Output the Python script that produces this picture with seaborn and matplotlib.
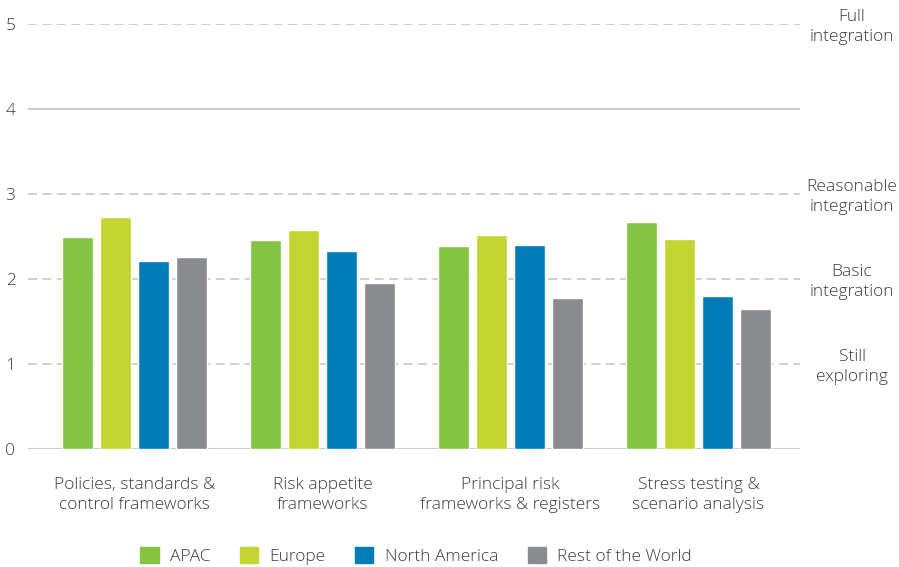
import numpy as np
import pandas as pd
import matplotlib
matplotlib.use("Agg")
import matplotlib.pyplot as plt
import matplotlib.patches as mpatches
import matplotlib.transforms as mtransforms
import seaborn as sns

# Data
categories = ["Policies, standards &\ncontrol frameworks",
              "Risk appetite\nframeworks",
              "Principal risk\nframeworks & registers",
              "Stress testing &\nscenario analysis"]
regions = ["APAC", "Europe", "North America", "Rest of the World"]
apac = [2.49, 2.46, 2.39, 2.67]
europe = [2.73, 2.58, 2.52, 2.47]
north_america = [2.21, 2.33, 2.40, 1.80]
rest_of_world = [2.26, 1.95, 1.78, 1.65]
level_values = [5, 3, 2, 1]
level_labels = ["Full\nintegration", "Reasonable\nintegration",
                "Basic\nintegration", "Still\nexploring"]

colors = ["#85C343", "#C3D530", "#007CB7", "#898B8F"]

rows = []
for reg, vals in zip(regions, [apac, europe, north_america, rest_of_world]):
    for cat, v in zip(categories, vals):
        rows.append({"category": cat, "region": reg, "score": v})
df = pd.DataFrame(rows)

sns.set_style("white")
plt.rcParams['font.family'] = ['Open Sans', 'DejaVu Sans']
plt.rcParams['font.weight'] = 'light'
text_color = "#3C3C3C"
grid_color = "#CCCCCC"
fs = 12.5

fig = plt.figure(figsize=(8.99, 5.67), dpi=100)
ax = fig.add_axes([28 / 899, 1 - 449 / 567, 772 / 899, 425 / 567])

sns.barplot(data=df, x="category", y="score", hue="region", order=categories,
            hue_order=regions, palette=colors, width=0.81, gap=0.2,
            saturation=1, ax=ax, legend=False, zorder=3)

# gridlines: solid at 0 and 4, dashed elsewhere
for yv in range(0, 6):
    if yv in (0, 4):
        ax.axhline(yv, color=grid_color, lw=1.5, zorder=1)
    else:
        ax.axhline(yv, color=grid_color, lw=1.3, ls=(0, (5, 3)), zorder=1)

ax.set_ylim(0, 5)
ax.set_xlim(-0.566, 3.54)
ax.set_yticks(range(0, 6))
ax.set_xlabel("")
ax.set_ylabel("")
sns.despine(ax=ax, left=True, bottom=True)
ax.tick_params(axis='y', length=0, pad=9, labelsize=fs, labelcolor=text_color)
ax.tick_params(axis='x', length=0, pad=20, labelsize=fs, labelcolor=text_color)
for t in ax.get_xticklabels():
    t.set_linespacing(1.35)

# right-hand scale descriptions, nudged slightly down
trans = mtransforms.blended_transform_factory(fig.transFigure, ax.transData)
trans = trans + mtransforms.ScaledTranslation(0, -3 / 100, fig.dpi_scale_trans)
for yv, lab in zip(level_values, level_labels):
    ax.text(852 / 899, yv, lab, transform=trans, ha="center", va="center",
            fontsize=fs, color=text_color, linespacing=1.35, clip_on=False)

handles = [mpatches.Patch(color=c, label=r) for c, r in zip(colors, regions)]
fig.legend(handles=handles, loc="center", bbox_to_anchor=(416 / 899, 1 - 556 / 567),
           ncol=4, frameon=False, fontsize=fs, labelcolor=text_color,
           handlelength=1.05, handleheight=1.05, columnspacing=1.7, handletextpad=0.65)

fig.savefig("out.png", dpi=100)
